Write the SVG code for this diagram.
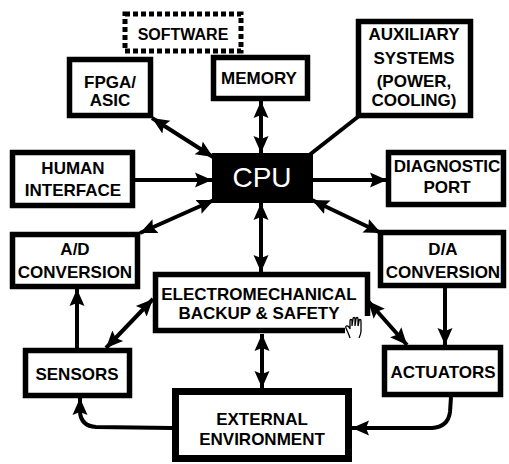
<svg xmlns="http://www.w3.org/2000/svg" width="509" height="464" viewBox="0 0 509 464">
<defs>
<style>
.box{fill:#fff;stroke:#000;stroke-width:5.5}
.lbl{font-family:"Liberation Sans",Arial,Helvetica,sans-serif;font-weight:bold;font-size:17px;fill:#000;text-anchor:middle}
.con{fill:none;stroke:#000;stroke-width:4}
</style>
<marker id="ah" markerUnits="userSpaceOnUse" markerWidth="20" markerHeight="18" refX="17" refY="9" orient="auto-start-reverse">
<path d="M0,1.5 L17,9 L0,16.5 L3,9 z" fill="#000"/>
</marker>
</defs>
<rect width="509" height="464" fill="#fff"/>
<g id="connectors">
<line class="con" x1="152" y1="118" x2="213" y2="157" marker-start="url(#ah)" marker-end="url(#ah)"/>
<line class="con" x1="261" y1="101" x2="261" y2="153" marker-start="url(#ah)" marker-end="url(#ah)"/>
<line class="con" x1="359" y1="116" x2="308" y2="156"/>
<line class="con" x1="135" y1="180" x2="212" y2="180" marker-end="url(#ah)"/>
<line class="con" x1="313" y1="180" x2="387" y2="180" marker-end="url(#ah)"/>
<line class="con" x1="140" y1="233" x2="214" y2="200" marker-start="url(#ah)" marker-end="url(#ah)"/>
<line class="con" x1="312" y1="200" x2="381" y2="233" marker-start="url(#ah)" marker-end="url(#ah)"/>
<line class="con" x1="261" y1="203" x2="261" y2="272" marker-start="url(#ah)" marker-end="url(#ah)"/>
<line class="con" x1="445" y1="288" x2="445" y2="345" marker-end="url(#ah)"/>
<line class="con" x1="77" y1="348" x2="77" y2="289" marker-end="url(#ah)"/>
<line class="con" x1="106" y1="348" x2="153" y2="299" marker-start="url(#ah)" marker-end="url(#ah)"/>
<line class="con" x1="368" y1="301" x2="407" y2="345" marker-start="url(#ah)" marker-end="url(#ah)"/>
<line class="con" x1="262" y1="334" x2="262" y2="388" marker-start="url(#ah)" marker-end="url(#ah)"/>
<path class="con" d="M172,428 L96,427 Q81,426 80,412 L80,398" marker-end="url(#ah)"/>
<path class="con" d="M451,397 L450,412 Q448,427 432,428 L352,428" marker-end="url(#ah)"/>
</g>
<g id="software">
<rect x="125" y="14" width="116" height="37" fill="#fff" stroke="#000" stroke-width="5" stroke-dasharray="5,3"/>
<text class="lbl" x="183" y="40" style="font-size:16px">SOFTWARE</text>
</g>
<g id="fpga">
<rect class="box" x="69.5" y="59.5" width="81" height="56"/>
<text class="lbl" x="110" y="88">FPGA/</text>
<text class="lbl" x="110" y="106">ASIC</text>
</g>
<g id="memory">
<rect class="box" x="213.5" y="57.5" width="94" height="41"/>
<text class="lbl" x="259" y="84">MEMORY</text>
</g>
<g id="auxiliary">
<rect class="box" x="358.5" y="21.5" width="112" height="94"/>
<text class="lbl" x="414" y="40">AUXILIARY</text>
<text class="lbl" x="414" y="64">SYSTEMS</text>
<text class="lbl" x="414" y="87">(POWER,</text>
<text class="lbl" x="414" y="106">COOLING)</text>
</g>
<g id="human">
<rect class="box" x="12.5" y="152.5" width="120" height="53"/>
<text class="lbl" x="73" y="174">HUMAN</text>
<text class="lbl" x="73" y="196">INTERFACE</text>
</g>
<g id="cpu">
<rect x="212" y="153" width="101" height="50" fill="#000"/>
<text x="262" y="187" style="font-family:'Liberation Sans',Arial,Helvetica,sans-serif;font-size:28px;fill:#fff;text-anchor:middle">CPU</text>
</g>
<g id="diagnostic">
<rect class="box" x="388.5" y="152.5" width="115" height="52"/>
<text class="lbl" x="447" y="172">DIAGNOSTIC</text>
<text class="lbl" x="447" y="193">PORT</text>
</g>
<g id="ad">
<rect class="box" x="12.5" y="234.5" width="125" height="52"/>
<text class="lbl" x="75" y="255">A/D</text>
<text class="lbl" x="75" y="278">CONVERSION</text>
</g>
<g id="da">
<rect class="box" x="380.5" y="232.5" width="123" height="53"/>
<text class="lbl" x="443" y="255">D/A</text>
<text class="lbl" x="443" y="278">CONVERSION</text>
</g>
<g id="electromechanical">
<rect class="box" x="155.5" y="274.5" width="212" height="56"/>
<text class="lbl" x="259" y="300">ELECTROMECHANICAL</text>
<text class="lbl" x="259" y="319">BACKUP &amp; SAFETY</text>
<rect x="345" y="316" width="26" height="20" fill="#fff"/>
<path d="M350,338 C349,334 347,331 346,328 C345,326 347,325 349,327 L350,329 L350,321 C350,319 352,319 352,321 L352,326 L353,319 C353,317 355,317 355,319 L355,326 L356,319 C356,317 358,317 358,319 L358,326 L359,321 C359,319 361,319 361,321 L361,331 C361,334 360,336 359,338" fill="#fff" stroke="#000" stroke-width="1.3"/>
</g>
<g id="sensors">
<rect class="box" x="25.5" y="350.5" width="104" height="45"/>
<text class="lbl" x="77" y="380">SENSORS</text>
</g>
<g id="actuators">
<rect class="box" x="384.5" y="347.5" width="116" height="47"/>
<text class="lbl" x="443" y="378">ACTUATORS</text>
</g>
<g id="external">
<rect x="175.5" y="391.5" width="173" height="67" fill="#fff" stroke="#000" stroke-width="7"/>
<text class="lbl" x="262" y="425">EXTERNAL</text>
<text class="lbl" x="262" y="445">ENVIRONMENT</text>
</g>
</svg>
